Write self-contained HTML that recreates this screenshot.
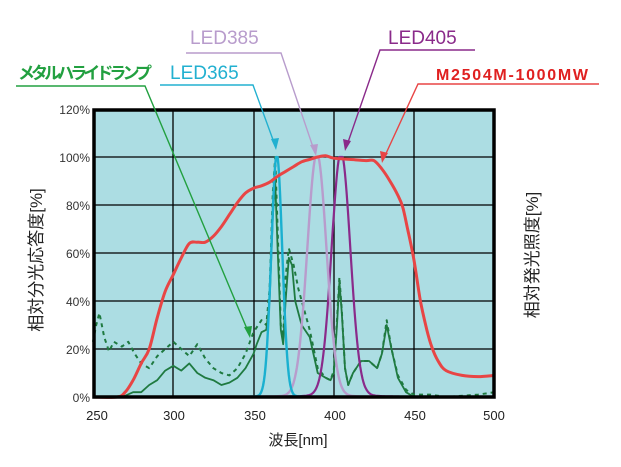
<!DOCTYPE html>
<html><head><meta charset="utf-8"><style>
body{margin:0;background:#fff;width:621px;height:467px;overflow:hidden;font-family:"Liberation Sans","Noto Sans CJK JP",sans-serif}
svg{display:block}
</style></head><body>
<svg id="s" width="621" height="467" xmlns="http://www.w3.org/2000/svg">
<rect x="94" y="110" width="400" height="287" fill="#acdde3"/>
<g stroke="#000" stroke-width="1.3">
<line x1="173" y1="110" x2="173" y2="397"/><line x1="254" y1="110" x2="254" y2="397"/><line x1="334" y1="110" x2="334" y2="397"/><line x1="414" y1="110" x2="414" y2="397"/>
<line x1="94" y1="157" x2="494" y2="157"/><line x1="94" y1="205" x2="494" y2="205"/><line x1="94" y1="253" x2="494" y2="253"/><line x1="94" y1="301" x2="494" y2="301"/><line x1="94" y1="349" x2="494" y2="349"/>
</g>
<g id="curves" fill="none" stroke-linejoin="round"></g>
<rect x="94" y="110" width="400" height="287" fill="none" stroke="#000" stroke-width="3.5"/>
<g font-size="12" fill="#333" text-anchor="end">
<text x="90" y="114">120%</text><text x="90" y="162">100%</text><text x="90" y="210">80%</text><text x="90" y="258">60%</text><text x="90" y="306">40%</text><text x="90" y="354">20%</text><text x="90" y="402">0%</text>
</g>
<g font-size="13" fill="#222" text-anchor="middle">
<text x="97" y="420">250</text><text x="174" y="420">300</text><text x="255" y="420">350</text><text x="335" y="420">400</text><text x="415" y="420">450</text><text x="494" y="420">500</text>
</g>
<text x="298" y="445" font-size="15" fill="#222" text-anchor="middle">波長[nm]</text>
<text transform="translate(42,260) rotate(-90)" font-size="17" fill="#222" text-anchor="middle">相対分光応答度[%]</text>
<text transform="translate(538,255) rotate(-90)" font-size="17" fill="#222" text-anchor="middle">相対発光照度[%]</text>
<g fill="none" stroke-width="1.4">
<polyline points="16,86 145,86 250,336" stroke="#22a040"/>
<polyline points="160,85 253,85 276,148" stroke="#22b0d0"/>
<polyline points="186,53 281,53 315,153" stroke="#b89ccc"/>
<polyline points="475,50 380,50 346,148" stroke="#8a2a8a"/>
<polyline points="599,84 418,84 383,160" stroke="#e84545"/>
</g>
<polygon points="250,338 244,327 252,326" fill="#22a040"/>
<polygon points="276,150 271,139 279,138" fill="#22b0d0"/>
<polygon points="316,156 310,145 318,144" fill="#b89ccc"/>
<polygon points="345,151 343,139 351,141" fill="#8a2a8a"/>
<polygon points="382,163 380,151 388,153" fill="#e84545"/>
<text x="18" y="79" font-size="17" font-weight="bold" fill="#22a040" textLength="134">メタルハライドランプ</text>
<text x="170" y="79" font-size="19" fill="#22b0d0">LED365</text>
<text x="190" y="44" font-size="19" fill="#b89ccc">LED385</text>
<text x="388" y="44" font-size="19" fill="#8a2a8a">LED405</text>
<text x="436" y="80" font-size="16" font-weight="bold" fill="#e02020" textLength="152">M2504M-1000MW</text>
</svg>
<script>
function X(l){return 93+1.605*(l-250)}function Y(v){return 397-2.4*v}
function P(a){return a.map((p,i)=>(i?'L':'M')+X(p[0]).toFixed(1)+','+Y(p[1]).toFixed(1)).join('')}
function S(a){var q=a.map(p=>[X(p[0]),Y(p[1])]);var d='M'+q[0][0].toFixed(1)+','+q[0][1].toFixed(1);for(var i=0;i<q.length-1;i++){var p0=q[Math.max(0,i-1)],p1=q[i],p2=q[i+1],p3=q[Math.min(q.length-1,i+2)];var c1=[p1[0]+(p2[0]-p0[0])/6,p1[1]+(p2[1]-p0[1])/6],c2=[p2[0]-(p3[0]-p1[0])/6,p2[1]-(p3[1]-p1[1])/6];d+='C'+c1.map(v=>v.toFixed(1))+' '+c2.map(v=>v.toFixed(1))+' '+p2.map(v=>v.toFixed(1))}return d}
function G(mu,s,tail){var a=[];for(var l=250;l<=500;l+=0.5){var d=l-mu;var v=100*Math.exp(-d*d/(2*s*s));v+=tail*100/(1+d*d/(s*s*4));v=Math.min(100,v);a.push([l,v])}return a}
var red=[[250,0],[265,0],[270,2],[275,7],[280,14],[285,20],[290,33],[295,44],[300,51],[305,58],[310,64],[315,64.5],[320,64.5],[325,67],[330,71],[335,76],[340,81],[345,85],[350,87],[355,88],[360,89.5],[365,92],[370,94],[375,96],[380,98],[385,99],[390,100],[395,100.5],[400,99.5],[410,99],[420,98.5],[425,98.5],[430,95],[435,90],[440,84],[443,79],[446,70],[450,57],[454,40],[458,28],[461,21],[465,15],[470,11],[480,9],[490,8.5],[500,9]];
var gs=[[260,0],[270,0.5],[275,2],[280,2],[285,5],[290,7],[295,11],[300,13],[305,11],[310,14],[315,10],[320,8],[325,7],[330,5],[335,6],[340,8],[345,12],[350,18],[352,22],[355,27],[358,28],[360,40],[362,75],[363.5,90],[365,62],[367,28],[368.5,22],[370,40],[372,58],[374,55],[376,40],[380,30],[385,25],[390,10],[395,8],[398,7],[400,10],[402,30],[403.5,48],[405,35],[407,12],[409,5],[412,10],[417,15],[422,15],[427,12],[430,18],[433,30],[436,20],[440,8],[445,2],[450,0],[500,0]];
var gd=[[250,23],[252,30],[254,35],[257,25],[260,19],[263,23],[268,21],[272,23],[276,18],[280,14],[285,12],[290,17],[295,20],[300,23],[305,20],[310,17],[315,22],[320,16],[325,12],[330,10],[335,9],[340,12],[345,18],[350,27],[355,32],[358,30],[360,45],[362,85],[363.5,100],[365,70],[367,30],[368.5,25],[370,50],[372,62],[375,55],[378,45],[385,28],[390,12],[395,8],[398,7],[400,11],[402,32],[403.5,50],[405,36],[407,12],[409,5],[412,10],[417,15],[422,15],[427,12],[430,18],[433,32],[436,20],[440,9],[445,3],[450,1],[460,1],[470,0],[490,1],[500,2]];
var c=document.getElementById('curves');
function add(d,col,w,dash){var p=document.createElementNS('http://www.w3.org/2000/svg','path');p.setAttribute('d',d);p.setAttribute('stroke',col);p.setAttribute('stroke-width',w);if(dash)p.setAttribute('stroke-dasharray',dash);c.appendChild(p)}
add(P(gd),'#1f7a40',2,'4,4');
add(P(gs),'#1f7a40',1.8);
add(P(G(404.5,5.8,0.02)),'#8a2a8a',2.2);
add(P(G(389.5,6,0.015)),'#b89ccc',2.4);
add(P(G(364.5,3.4,0.01)),'#1ab0d0',2.4);
add(S(red),'#e84545',3);
</script>
</body></html>
